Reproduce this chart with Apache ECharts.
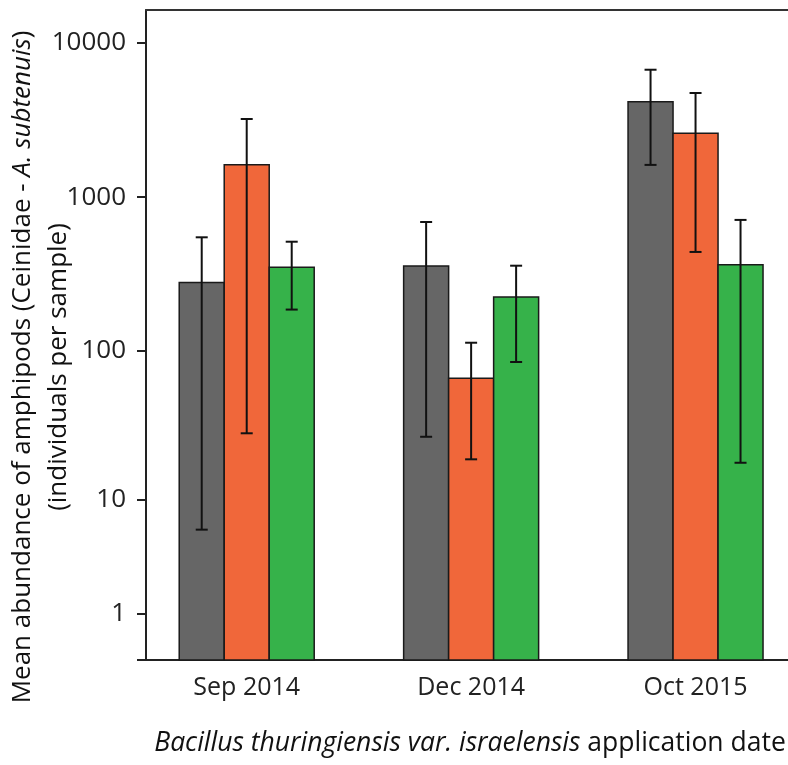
<!DOCTYPE html>
<html>
<head>
<meta charset="utf-8">
<script src="https://cdn.jsdelivr.net/npm/echarts@6/dist/echarts.min.js"></script>
<style>html,body{margin:0;padding:0;background:#fff;}#chart{width:788px;height:765px;}</style>
</head>
<body>
<div id="chart"></div>
<script>
// ---- data ----
const categories = ['Sep 2014', 'Dec 2014', 'Oct 2015'];
const seriesNames = ['Series 1', 'Series 2', 'Series 3'];
const grayMean  = [279, 357, 4160];
const grayLow   = [6, 27, 1620];
const grayHigh  = [549, 690, 6710];
const orangeMean = [1625, 66, 2600];
const orangeLow  = [28.5, 19, 441];
const orangeHigh = [3215, 113, 4740];
const greenMean = [351, 225, 364];
const greenLow  = [186, 84.5, 18];
const greenHigh = [514, 359, 712];
const tickLabels = [1, 10, 100, 1000, 10000];

// ---- helpers ----
const T = v => Math.log10(v + 1);
const colors = ['#666666', '#F0673A', '#36B24A'];
const means = [grayMean, orangeMean, greenMean];
const lows = [grayLow, orangeLow, greenLow];
const highs = [grayHigh, orangeHigh, greenHigh];
const BAR_FRAC = 0.2005;
const FONT = 'Open Sans';

function barRender(k) {
  return function (params, api) {
    const x = api.value(0), v = api.value(1);
    const bw = api.size([1, 0])[0] * BAR_FRAC;
    const top = api.coord([x, v]);
    const base = api.coord([x, 0]);
    return {
      type: 'rect',
      shape: { x: top[0] + (k - 1.5) * bw, y: top[1], width: bw, height: base[1] - top[1] },
      style: { fill: colors[k], stroke: '#1a1a1a', lineWidth: 1.5 }
    };
  };
}
function errRender(k) {
  return function (params, api) {
    const x = api.value(0);
    const bw = api.size([1, 0])[0] * BAR_FRAC;
    const lo = api.coord([x, api.value(1)]);
    const hi = api.coord([x, api.value(2)]);
    const cx = lo[0] + (k - 1) * bw;
    const cap = 6;
    const st = { stroke: '#111', lineWidth: 2 };
    return {
      type: 'group',
      children: [
        { type: 'line', shape: { x1: cx, y1: hi[1], x2: cx, y2: lo[1] }, style: st },
        { type: 'line', shape: { x1: cx - cap, y1: hi[1], x2: cx + cap, y2: hi[1] }, style: st },
        { type: 'line', shape: { x1: cx - cap, y1: lo[1], x2: cx + cap, y2: lo[1] }, style: st }
      ]
    };
  };
}

const series = [];
for (let k = 0; k < 3; k++) {
  series.push({
    name: seriesNames[k], type: 'custom', renderItem: barRender(k), z: 2,
    data: categories.map((c, i) => [i, T(means[k][i])])
  });
}
for (let k = 0; k < 3; k++) {
  series.push({
    name: seriesNames[k] + ' error', type: 'custom', renderItem: errRender(k), z: 3,
    data: categories.map((c, i) => [i, T(lows[k][i]), T(highs[k][i])])
  });
}

const XMIN = -0.4488, XMAX = 2.412;
const axisLineStyle = { color: '#222', width: 2 };

const option = {
  animation: false,
  backgroundColor: '#fff',
  grid: { left: 146, right: 0, top: 10, bottom: 105, containLabel: false, outerBoundsMode: 'none' },
  xAxis: [{
    type: 'value', min: XMIN, max: XMAX, position: 'bottom',
    splitLine: { show: false },
    axisLine: { show: true, onZero: false, lineStyle: axisLineStyle },
    axisTick: { show: false },
    axisLabel: {
      customValues: categories.map((c, i) => i),
      formatter: v => categories[Math.round(v)],
      fontFamily: FONT, fontSize: 25, color: '#222', margin: 15
    },
    name: '{i|Bacillus thuringiensis var. israelensis} {n|application date}',
    nameLocation: 'middle', nameGap: 70, nameMoveOverlap: false,
    nameTextStyle: {
      fontFamily: FONT, fontSize: 26.5, color: '#111', padding: [0, 0, 0, 6],
      rich: {
        i: { fontFamily: FONT, fontSize: 26.5, fontStyle: 'italic', color: '#111' },
        n: { fontFamily: FONT, fontSize: 26.5, color: '#111' }
      }
    }
  }, {
    type: 'value', min: XMIN, max: XMAX, position: 'top',
    splitLine: { show: false },
    axisLine: { show: true, onZero: false, lineStyle: { color: '#333', width: 2 } },
    axisTick: { show: false }, axisLabel: { show: false }
  }],
  yAxis: {
    type: 'value', min: 0, max: 4.214,
    splitLine: { show: false },
    axisLine: { show: true, onZero: false, lineStyle: axisLineStyle },
    axisTick: { show: true, length: 9, lineStyle: { color: '#222', width: 2 }, customValues: [0].concat(tickLabels.map(T)) },
    axisLabel: {
      customValues: tickLabels.map(T),
      formatter: v => String(Math.round(Math.pow(10, v) - 1)),
      fontFamily: FONT, fontSize: 26, color: '#222', margin: 20
    },
    name: '{n|Mean abundance of amphipods (Ceinidae - }{i|A. subtenuis}{n|)}\n{n|(individuals per sample)}',
    nameLocation: 'middle', nameRotate: 90, nameGap: 69, nameMoveOverlap: false,
    nameTextStyle: {
      fontFamily: FONT, fontSize: 26, color: '#111', align: 'center', padding: [0, 64, 0, 0],
      rich: {
        n: { fontFamily: FONT, fontSize: 26, color: '#111', lineHeight: 36 },
        i: { fontFamily: FONT, fontSize: 26, fontStyle: 'italic', color: '#111', lineHeight: 36 }
      }
    }
  },
  series: series
};

const chart = echarts.init(document.getElementById('chart'), null, { renderer: 'canvas' });
chart.setOption(option);
</script>
</body>
</html>
